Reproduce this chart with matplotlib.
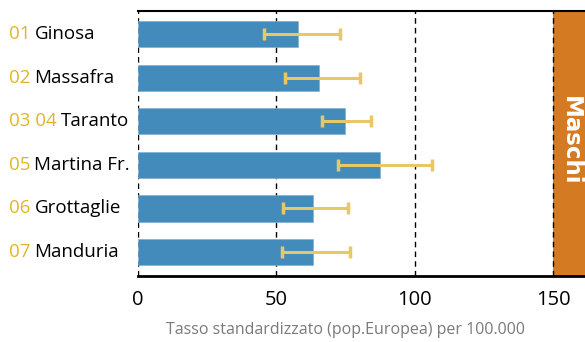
import matplotlib.pyplot as plt
import matplotlib.transforms as mtrans

plt.rcParams.update({'font.family': ['Open Sans', 'DejaVu Sans']})

codes = ['01', '02', '03 04', '05', '06', '07']
places = ['Ginosa', 'Massafra', 'Taranto', 'Martina Fr.', 'Grottaglie', 'Manduria']
rates = [57.6, 65.3, 74.7, 87.5, 63.2, 63.2]
ci_low = [45.5, 53.2, 66.4, 72.1, 52.5, 51.9]
ci_high = [73.0, 80.3, 84.0, 106.2, 75.9, 76.6]
xticks = [0, 50, 100, 150]

bar_c = '#428BBA'
err_c = '#E8C865'
code_c = '#E0B52A'
band_c = '#D47A22'

fig = plt.figure(figsize=(5.85, 3.42), dpi=100)
ax = fig.add_axes([138 / 585, 1 - 276 / 342, (585 - 138) / 585, (276 - 11) / 342])

y = list(range(len(places)))
err = [[r - lo for r, lo in zip(rates, ci_low)], [hi - r for r, hi in zip(rates, ci_high)]]

ax.axvspan(150, 162, color=band_c, zorder=0, lw=0)
for t in xticks:
    ax.axvline(t, color='black', lw=1, ls=(0, (4, 3)), zorder=1)

ax.barh(y, rates, height=0.6, color=bar_c, edgecolor='#7FB0D2', linewidth=0.5, zorder=2)
ax.errorbar(rates, y, xerr=err, fmt='none', ecolor=err_c, elinewidth=2.2, capsize=4.5, capthick=2.5, zorder=3)

ax.set_xlim(0, 161.4)
ax.set_ylim(5.55, -0.53)
ax.set_xticks(xticks)
ax.set_xticklabels([str(t) for t in xticks], fontsize=14.5)
ax.tick_params(axis='x', length=0, pad=10)
ax.set_yticks([])
ax.spines['left'].set_visible(False)
ax.spines['right'].set_visible(False)
ax.spines['top'].set_linewidth(1.5)
ax.spines['bottom'].set_linewidth(2)

# axis title centred under the 0-150 range
ax.text(75, -54 / 265, 'Tasso standardizzato (pop.Europea) per 100.000', fontsize=11.5, color='#7a7a7a',
        ha='center', va='center', transform=mtrans.blended_transform_factory(ax.transData, ax.transAxes))

ax.text(156, 2.45, 'Maschi', rotation=270, ha='center', va='center', color='white',
        fontsize=16.5, fontweight='bold', family='DejaVu Sans', zorder=4)

# category labels: yellow code + black name, left aligned
renderer = fig.canvas.get_renderer()
trans = mtrans.blended_transform_factory(fig.transFigure, ax.transData)
for i, (c, p) in enumerate(zip(codes, places)):
    t1 = fig.text(9 / 585, i, c, color=code_c, fontsize=13.5, va='center', ha='left', transform=trans)
    bb = t1.get_window_extent(renderer)
    x2 = (bb.x1 + 4) / fig.bbox.width
    fig.text(x2, i, p, color='black', fontsize=13.5, va='center', ha='left', transform=trans)

fig.savefig('out.png', dpi=100)
